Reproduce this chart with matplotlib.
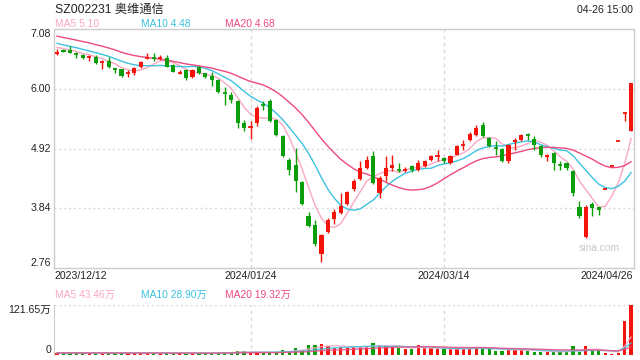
import numpy as np
import pandas as pd
import matplotlib
matplotlib.use('Agg')
import matplotlib.pyplot as plt
import matplotlib.transforms as mtransforms

plt.rcParams['font.family'] = ['Liberation Sans', 'Noto Sans CJK SC']

# daily OHLC, 2023/12/12 .. 2024/04/26
open_ = [6.63, 6.70, 6.70, 6.65, 6.61, 6.56, 6.57, 6.48, 6.51, 6.37,
         6.35, 6.27, 6.28, 6.40, 6.54, 6.56, 6.54, 6.55, 6.43, 6.28,
         6.34, 6.21, 6.39, 6.28, 6.23, 6.16, 5.94, 5.89, 5.77, 5.38,
         5.30, 5.38, 5.71, 5.78, 5.44, 5.14, 4.72, 4.63, 4.31, 3.70,
         3.53, 3.01, 3.41, 3.64, 3.75, 3.91, 4.18, 4.36, 4.57, 4.78,
         4.12, 4.42, 4.57, 4.55, 4.53, 4.60, 4.54, 4.61, 4.72, 4.77,
         4.75, 4.66, 4.81, 4.98, 5.08, 5.17, 5.35, 5.11, 4.94, 4.91,
         4.69, 5.03, 5.08, 5.17, 5.10, 4.96, 4.77, 4.84, 4.64, 4.65,
         4.51, 3.86, 3.32, 3.91, 3.86, 4.18, 4.60, 5.06, 5.56, 5.24]
high = [6.71, 6.72, 6.77, 6.66, 6.62, 6.61, 6.61, 6.52, 6.57, 6.38,
        6.36, 6.33, 6.40, 6.51, 6.64, 6.64, 6.61, 6.61, 6.44, 6.33,
        6.35, 6.36, 6.42, 6.29, 6.31, 6.17, 6.04, 5.95, 5.80, 5.44,
        5.41, 5.69, 5.78, 5.81, 5.46, 5.16, 4.74, 4.93, 4.33, 3.77,
        3.63, 3.37, 3.67, 3.82, 4.12, 4.15, 4.37, 4.69, 4.78, 4.88,
        4.42, 4.78, 4.81, 4.65, 4.58, 4.62, 4.72, 4.72, 4.80, 4.90,
        4.77, 4.80, 4.98, 5.08, 5.21, 5.35, 5.39, 5.13, 5.05, 4.93,
        5.00, 5.11, 5.18, 5.20, 5.14, 4.98, 4.82, 4.86, 4.69, 4.67,
        4.53, 3.97, 3.90, 3.95, 3.87, 4.18, 4.60, 5.06, 5.56, 6.11]
low = [6.61, 6.66, 6.64, 6.55, 6.53, 6.51, 6.45, 6.35, 6.37, 6.29,
       6.21, 6.22, 6.25, 6.38, 6.53, 6.50, 6.52, 6.39, 6.30, 6.27,
       6.16, 6.20, 6.27, 6.20, 6.05, 5.93, 5.71, 5.74, 5.29, 5.23,
       5.09, 5.33, 5.62, 5.40, 5.14, 4.77, 4.45, 4.13, 3.89, 3.50,
       3.16, 2.87, 3.40, 3.55, 3.73, 3.90, 4.16, 4.35, 4.55, 4.28,
       4.03, 4.33, 4.51, 4.49, 4.50, 4.50, 4.52, 4.59, 4.70, 4.69,
       4.66, 4.64, 4.80, 4.90, 5.06, 5.15, 5.12, 4.95, 4.81, 4.67,
       4.66, 4.90, 5.06, 5.08, 4.90, 4.76, 4.70, 4.54, 4.54, 4.53,
       4.07, 3.66, 3.31, 3.70, 3.72, 4.18, 4.60, 5.06, 5.41, 5.24]
close = [6.67, 6.67, 6.65, 6.63, 6.55, 6.58, 6.47, 6.49, 6.39, 6.33,
         6.23, 6.28, 6.37, 6.49, 6.55, 6.55, 6.55, 6.40, 6.31, 6.29,
         6.19, 6.34, 6.28, 6.22, 6.16, 5.95, 5.92, 5.80, 5.38, 5.29,
         5.31, 5.65, 5.70, 5.41, 5.17, 4.79, 4.54, 4.33, 3.91, 3.52,
         3.19, 3.35, 3.63, 3.77, 3.88, 4.13, 4.33, 4.57, 4.72, 4.30,
         4.39, 4.57, 4.63, 4.54, 4.54, 4.53, 4.66, 4.69, 4.78, 4.78,
         4.69, 4.78, 4.96, 4.99, 5.19, 5.29, 5.14, 4.97, 4.93, 4.69,
         4.98, 5.07, 5.16, 5.16, 4.98, 4.80, 4.80, 4.65, 4.63, 4.57,
         4.11, 3.70, 3.86, 3.84, 3.80, 4.18, 4.60, 5.06, 5.56, 6.11]
# volume, 万
volume = [5.5, 4.5, 5.0, 4.0, 4.5, 4.0, 5.0, 5.5, 5.0, 4.5,
          5.0, 4.0, 4.5, 5.0, 5.5, 4.5, 4.0, 5.0, 4.5, 4.0,
          5.0, 4.5, 4.0, 4.5, 5.0, 6.0, 6.5, 7.0, 9.7, 9.7,
          6.0, 7.0, 5.0, 6.5, 7.5, 12.0, 10.0, 16.0, 12.0, 24.0,
          24.0, 26.8, 21.9, 17.8, 18.7, 17.8, 20.3, 20.3, 20.3, 30.0,
          21.9, 21.9, 20.3, 17.8, 13.8, 13.8, 24.3, 16.2, 16.2, 13.8,
          13.8, 13.8, 16.2, 16.2, 16.2, 20.3, 16.2, 13.8, 10.5, 10.5,
          13.0, 13.0, 13.0, 9.8, 8.1, 8.1, 8.1, 8.1, 8.1, 8.1,
          21.5, 6.5, 22.5, 10.6, 10.6, 4.7, 2.4, 5.55, 83.0, 121.65]
# sessions before the window, only used for the moving averages
prior_close = [7.15, 7.12, 7.10, 7.08, 7.05, 7.10, 7.06, 7.04, 7.03, 7.07,
               6.95, 6.90, 6.88, 6.85, 6.87, 6.80, 6.78, 6.75, 6.75]
prior_volume = [5.0, 5.5, 4.5, 5.0, 6.0, 5.0, 4.5, 5.5, 5.0, 6.0,
                5.0, 4.5, 5.0, 5.5, 5.0, 4.5, 5.0, 5.5, 5.0]

date_labels = ['2023/12/12', '2024/01/24', '2024/03/14', '2024/04/26']
date_idx = [0, 30, 60, 89]
price_ticks = [7.08, 6.00, 4.92, 3.84, 2.76]
vol_max = 121.65

RED = '#f5140a'
GREEN = '#0a9e0a'
MA_COLORS = {5: '#f9a8c4', 10: '#3cc2e0', 20: '#ee4a7e'}
GRID = '#d9d9d9'
TXT = '#222222'

n = len(close)
x = np.arange(n)
o = np.array(open_); c = np.array(close); h = np.array(high); l = np.array(low)
v = np.array(volume)
up = c >= o
colors = np.where(up, RED, GREEN)

ma_p = {k: pd.Series(prior_close + close).rolling(k).mean().values[len(prior_close):] for k in (5, 10, 20)}
ma_v = {k: pd.Series(prior_volume + volume).rolling(k).mean().values[len(prior_volume):] for k in (5, 10, 20)}

fig = plt.figure(figsize=(6.4, 3.6), dpi=100)
W, H = 640, 360
ax = fig.add_axes([54 / W, 1 - 268 / H, 580 / W, 239 / H])
axv = fig.add_axes([54 / W, 1 - 355 / H, 580 / W, 50 / H])

xlim = (-0.47, 89.46)

# --- price panel
for k in (5, 10, 20):
    ax.plot(x, ma_p[k], color=MA_COLORS[k], lw=1.0, zorder=2)
ax.vlines(x, l, h, colors=colors, lw=1.0, zorder=3)
body = np.abs(c - o)
flat = body < 0.025
ax.bar(x[~flat], body[~flat], bottom=np.minimum(o, c)[~flat], width=0.64,
       color=colors[~flat], linewidth=0, zorder=4)
ax.hlines(c[flat], x[flat] - 0.32, x[flat] + 0.32, colors=colors[flat], lw=1.3, zorder=4)

ax.set_xlim(*xlim)
ax.set_ylim(price_ticks[-1], price_ticks[0])
for t in price_ticks[1:-1]:
    ax.axhline(t, color=GRID, lw=1.0, ls=(0, (1.5, 2)), zorder=1)
for i in date_idx[1:3]:
    ax.axvline(i, color=GRID, lw=1.0, ls=(0, (2.5, 2.5)), zorder=1)
ax.set_xticks([]); ax.set_yticks([])
for s in ax.spines.values():
    s.set_color('#cccccc'); s.set_linewidth(1.0)

ytr = mtransforms.blended_transform_factory(fig.transFigure, ax.transData)
for k, t in enumerate(price_ticks):
    va = 'top' if k == 0 else ('bottom' if k == len(price_ticks) - 1 else 'center')
    fig.text(51 / W, t, f'{t:.2f}', transform=ytr, ha='right', va=va, fontsize=7.6, color=TXT)

xtr = mtransforms.blended_transform_factory(ax.transData, fig.transFigure)
for k, (lab, i) in enumerate(zip(date_labels, date_idx)):
    ha = 'left' if k == 0 else ('right' if k == len(date_labels) - 1 else 'center')
    xx = xlim[0] + 0.1 if k == 0 else (xlim[1] - 0.1 if ha == 'right' else i)
    fig.text(xx, 1 - 276 / H, lab, transform=xtr, ha=ha, va='center', fontsize=7.6, color=TXT)

ax.text(0.94, 0.083, 'sina.com', transform=ax.transAxes, ha='center', va='center',
        fontsize=7.4, color='#c8c8c8')

# --- header
fig.text(55 / W, 1 - 10 / H, 'SZ002231 奥维通信', ha='left', va='center', fontsize=8.8, color=TXT)
fig.text(633 / W, 1 - 10 / H, '04-26 15:00', ha='right', va='center', fontsize=7.6, color=TXT)
leg_x = [55, 141, 225]
for xx, k in zip(leg_x, (5, 10, 20)):
    fig.text(xx / W, 1 - 24 / H, f'MA{k} {ma_p[k][-1]:.2f}', ha='left', va='center',
             fontsize=7.4, color=MA_COLORS[k])
for xx, k in zip(leg_x, (5, 10, 20)):
    fig.text(xx / W, 1 - 295 / H, f'MA{k} {ma_v[k][-1]:.2f}万', ha='left', va='center',
             fontsize=7.4, color=MA_COLORS[k])

# --- volume panel
axv.bar(x, v, width=0.5, color=colors, linewidth=0, zorder=2)
for k in (5, 10, 20):
    axv.plot(x, ma_v[k], color=MA_COLORS[k], lw=1.0, alpha=0.85, zorder=3)
axv.set_xlim(*xlim)
axv.set_ylim(0, vol_max)
axv.axhline(vol_max, color=GRID, lw=1.0, ls=(0, (1.5, 2)), zorder=1)
axv.axhline(0, color=GRID, lw=1.0, ls=(0, (1.5, 2)), zorder=1)
for i in date_idx[1:3]:
    axv.axvline(i, color=GRID, lw=1.0, ls=(0, (2.5, 2.5)), zorder=1)
axv.set_xticks([]); axv.set_yticks([])
for name, s in axv.spines.items():
    s.set_visible(name == 'left')
    s.set_color('#cccccc')
vtr = mtransforms.blended_transform_factory(fig.transFigure, axv.transData)
fig.text(51 / W, vol_max, f'{vol_max:.2f}万', transform=vtr, ha='right', va='top', fontsize=7.6, color=TXT)
fig.text(51 / W, 0, '0', transform=vtr, ha='right', va='bottom', fontsize=7.6, color=TXT)

fig.savefig('out.png', dpi=100)
